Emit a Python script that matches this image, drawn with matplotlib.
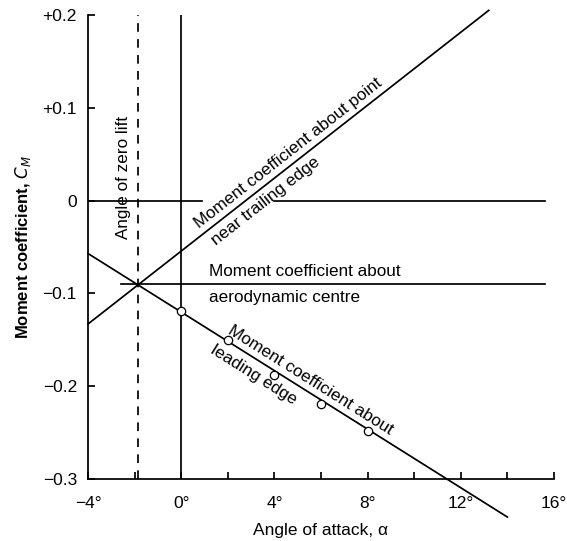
import numpy as np
import matplotlib
matplotlib.use("Agg")
import matplotlib.pyplot as plt

plt.rcParams['font.family'] = ['Liberation Sans', 'DejaVu Sans']

# ---- data ----
x_ticks = [-4, 0, 4, 8, 12, 16]
x_tick_labels = ['\u22124\u00b0', '0\u00b0', '4\u00b0', '8\u00b0', '12\u00b0', '16\u00b0']
x_minor = [-2, 2, 6, 10, 14]
y_ticks = [-0.3, -0.2, -0.1, 0.0, 0.1, 0.2]
y_tick_labels = ['\u22120.3', '\u22120.2', '\u22120.1', '0', '+0.1', '+0.2']

zero_lift_alpha = -1.85
ac_cm = -0.09
ac_alpha = [-2.6, 15.6]

zero_left_alpha = [-4.0, 0.9]
zero_right_alpha = [4.0, 15.6]

te_alpha = [-4.0, 13.2]
te_cm = [-0.133, 0.205]

le_alpha = [-4.0, 14.0]
le_cm = [-0.057, -0.341]

pts_alpha = [0, 2, 4, 6, 8]
pts_cm = [-0.119, -0.150, -0.188, -0.219, -0.248]

# ---- figure ----
W, H, DPI = 567, 541, 100
fig = plt.figure(figsize=(W / DPI, H / DPI), dpi=DPI)
ax = fig.add_axes([88 / W, 1 - 479 / H, (554 - 88) / W, (479 - 15) / H])
ax.set_xlim(-4, 16)
ax.set_ylim(-0.3, 0.2)

lw = 1.25
k = 'black'
ax.axvline(0, color=k, lw=lw)
ax.axvline(zero_lift_alpha, color=k, lw=lw, dashes=(5.0, 4.2))
ax.plot(zero_left_alpha, [0, 0], color=k, lw=lw)
ax.plot(zero_right_alpha, [0, 0], color=k, lw=lw)
ax.plot(ac_alpha, [ac_cm, ac_cm], color=k, lw=lw)
ax.plot(te_alpha, te_cm, color=k, lw=lw, clip_on=False)
ax.plot(le_alpha, le_cm, color=k, lw=lw, clip_on=False)
ax.plot(pts_alpha, pts_cm, 'o', ms=6, mfc='white', mec=k, mew=0.9, zorder=5)

for s in ['top', 'right']:
    ax.spines[s].set_visible(False)
for s in ['left', 'bottom']:
    ax.spines[s].set_linewidth(lw)

ax.set_xticks(x_ticks)
ax.set_xticklabels(x_tick_labels)
ax.set_xticks(x_minor, minor=True)
ax.set_yticks(y_ticks)
ax.set_yticklabels(y_tick_labels)
ax.tick_params(axis='both', which='both', direction='in', length=5, width=lw,
               labelsize=12.5)
ax.tick_params(axis='x', which='both', pad=12)
ax.tick_params(axis='y', which='both', pad=8)

ax.set_xlabel('Angle of attack, \u03b1', fontsize=12.5, labelpad=9)
ax.set_ylabel('Moment coefficient, $C_M$', fontsize=12, fontweight='bold',
              labelpad=7)

fs = 12.3

def line_angle(xa, ya):
    p = ax.transData.transform(np.column_stack([xa, ya]))
    return np.degrees(np.arctan2(p[1, 1] - p[0, 1], p[1, 0] - p[0, 0]))

def on_line(xa, ya, x):
    return np.interp(x, xa, ya)

def label_line(xa, ya, x, text, side, off):
    ang = line_angle(xa, ya)
    th = np.radians(ang)
    nx, ny = -np.sin(th), np.cos(th)
    sgn = 1 if side == 'above' else -1
    ax.annotate(text, xy=(x, on_line(xa, ya, x)),
                xytext=(sgn * nx * off, sgn * ny * off), textcoords='offset points',
                rotation=ang, rotation_mode='anchor', ha='center',
                va='baseline' if side == 'above' else 'top', fontsize=fs)

label_line(te_alpha, te_cm, 4.9, 'Moment coefficient about point', 'above', 4.5)
label_line(te_alpha, te_cm, 3.3, 'near trailing edge', 'below', 3.5)
label_line(le_alpha, le_cm, 5.3, 'Moment coefficient about', 'above', 5)
label_line(le_alpha, le_cm, 3.45, 'leading edge', 'below', 5)

ax.text(1.2, ac_cm + 0.006, 'Moment coefficient about', fontsize=fs,
        ha='left', va='bottom')
ax.text(1.2, ac_cm - 0.006, 'aerodynamic centre', fontsize=fs,
        ha='left', va='top')
ax.text(zero_lift_alpha - 0.3, 0.025, 'Angle of zero lift', rotation=90,
        fontsize=fs, ha='right', va='center')

fig.savefig('out.png', dpi=DPI)
